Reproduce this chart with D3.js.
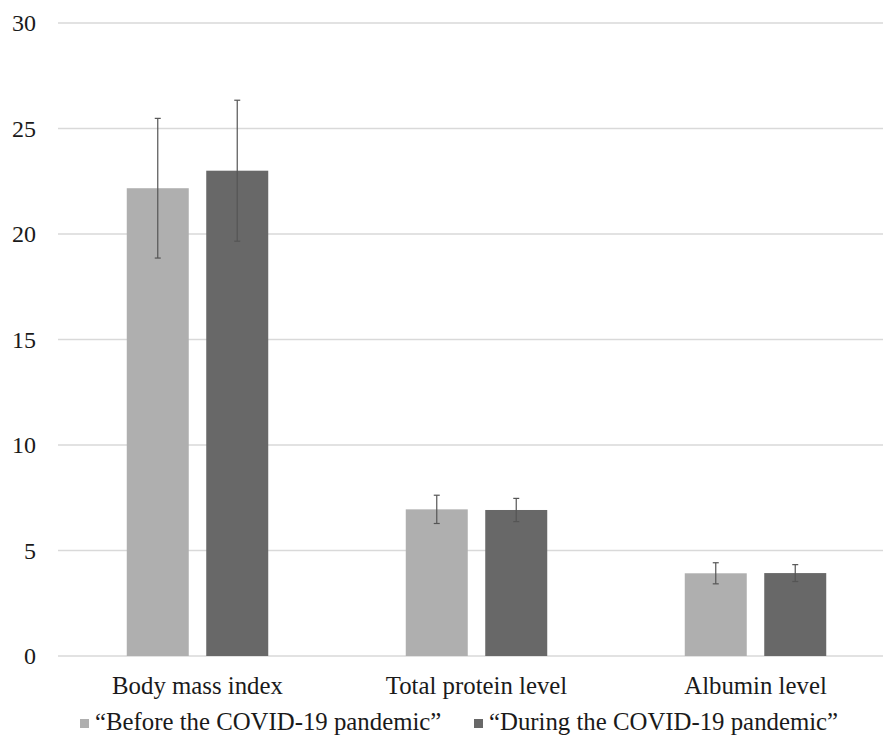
<!DOCTYPE html>
<html><head><meta charset="utf-8">
<script src="https://cdn.jsdelivr.net/npm/d3@7"></script>
<style>body{margin:0;background:#fff;} svg{display:block;}</style>
</head><body>
<svg id="chart" width="883" height="737"></svg>
<script>
const categories = ["Body mass index", "Total protein level", "Albumin level"];
const seriesNames = ["\u201CBefore the COVID-19 pandemic\u201D", "\u201CDuring the COVID-19 pandemic\u201D"];
const beforeValues = [22.17, 6.95, 3.92];
const beforeErrors = [3.31, 0.67, 0.50];
const duringValues = [23.0, 6.92, 3.93];
const duringErrors = [3.34, 0.55, 0.40];
const yTicks = [0, 5, 10, 15, 20, 25, 30];

const colors = ["#afafaf", "#686868"];
const svg = d3.select("#chart");
const font = "'Liberation Serif','Times New Roman',serif";
const textColor = "#1a1a1a";

const x0 = d3.scaleBand().domain(categories).range([58, 895]).paddingInner(0).paddingOuter(0);
const x1 = d3.scaleBand().domain([0, 1]).range([0, x0.bandwidth()]).paddingInner(0.22).paddingOuter(0.865);
const y = d3.scaleLinear().domain([0, 30]).range([656, 23]);

// gridlines
svg.append("g").selectAll("line").data(yTicks).join("line")
  .attr("x1", 58).attr("x2", 883)
  .attr("y1", d => y(d)).attr("y2", d => y(d))
  .attr("stroke", "#d9d9d9").attr("stroke-width", 1.3);

// y tick labels
svg.append("g").selectAll("text").data(yTicks).join("text")
  .attr("x", 36).attr("y", d => y(d)).attr("dy", "0.35em")
  .attr("text-anchor", "end").attr("font-family", font).attr("font-size", 24)
  .attr("fill", textColor).text(d => d);

const series = [
  {vals: beforeValues, errs: beforeErrors},
  {vals: duringValues, errs: duringErrors}
];

series.forEach((s, si) => {
  const g = svg.append("g");
  const data = categories.map((c, i) => ({c, v: s.vals[i], e: s.errs[i]}));
  g.selectAll("rect").data(data).join("rect")
    .attr("x", d => x0(d.c) + x1(si)).attr("width", x1.bandwidth())
    .attr("y", d => y(d.v)).attr("height", d => y(0) - y(d.v))
    .attr("fill", colors[si]);
  const eb = g.selectAll("g.err").data(data).join("g").attr("class", "err")
    .attr("stroke", "#555").attr("stroke-width", 1.2);
  const cx = d => x0(d.c) + x1(si) + x1.bandwidth() / 2;
  eb.append("line").attr("x1", cx).attr("x2", cx)
    .attr("y1", d => y(d.v + d.e)).attr("y2", d => y(d.v - d.e));
  eb.append("line").attr("x1", d => cx(d) - 3).attr("x2", d => cx(d) + 3)
    .attr("y1", d => y(d.v + d.e)).attr("y2", d => y(d.v + d.e));
  eb.append("line").attr("x1", d => cx(d) - 3).attr("x2", d => cx(d) + 3)
    .attr("y1", d => y(d.v - d.e)).attr("y2", d => y(d.v - d.e));
});

// category labels
svg.append("g").selectAll("text").data(categories).join("text")
  .attr("x", d => x0(d) + x0.bandwidth() / 2).attr("y", 694)
  .attr("text-anchor", "middle").attr("font-family", font).attr("font-size", 24.8)
  .attr("fill", textColor).text(d => d);

// legend
const legendX = [80, 474];
const lg = svg.append("g").selectAll("g").data(seriesNames).join("g")
  .attr("transform", (d, i) => `translate(${legendX[i]},0)`);
lg.append("rect").attr("x", 0).attr("y", 719).attr("width", 9).attr("height", 9)
  .attr("fill", (d, i) => colors[i]);
lg.append("text").attr("x", 15).attr("y", 730).attr("font-family", font).attr("font-size", 24.8)
  .attr("fill", textColor).text(d => d);
</script>
</body></html>
